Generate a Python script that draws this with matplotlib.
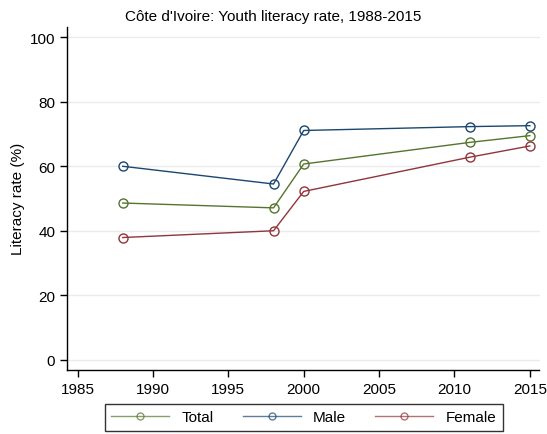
import matplotlib
matplotlib.use("Agg")
import matplotlib.pyplot as plt

plt.rcParams['font.family'] = ['Liberation Sans', 'DejaVu Sans']

# DATA

years = [1988, 1998, 2000, 2011, 2015]
total = [48.6, 47.1, 60.7, 67.4, 69.5]
male = [60.0, 54.5, 71.1, 72.3, 72.6]
female = [37.9, 40.0, 52.2, 62.8, 66.3]

series_names = ["Total", "Male", "Female"]
series_colors = ["#55752f", "#1a476f", "#90353b"]

x_ticks = [1985, 1990, 1995, 2000, 2005, 2010, 2015]
y_ticks = [0, 20, 40, 60, 80, 100]

# PLOT

fig = plt.figure(figsize=(5.47, 4.35), dpi=100)
ax = fig.add_axes([67 / 547, 1 - 370.7 / 435, (539.5 - 67) / 547, (370.7 - 28) / 435])

for vals, name, col in zip([total, male, female], series_names, series_colors):
    ax.plot(years, vals, color=col, lw=1.0, marker="o", markersize=6.5,
            markerfacecolor="none", markeredgewidth=1.0, label=name)

ax.set_xlim(1984.3, 2015.64)
ax.set_ylim(-3.1, 103.2)
ax.set_xticks(x_ticks)
ax.set_yticks(y_ticks)
ax.tick_params(labelsize=11, length=5, width=1, color="black")
ax.grid(axis="y", color="#ebebeb", lw=1)
ax.set_axisbelow(True)

for s in ["top", "right"]:
    ax.spines[s].set_visible(False)
for s in ["left", "bottom"]:
    ax.spines[s].set_linewidth(1)

ax.set_ylabel("Literacy rate (%)", fontsize=11, labelpad=3.5)
fig.suptitle("Côte d'Ivoire: Youth literacy rate, 1988-2015", fontsize=11, y=0.977)

leg = fig.legend(*ax.get_legend_handles_labels(), loc="upper center",
                 bbox_to_anchor=(303.8 / 547, 1 - 405 / 435), ncol=3,
                 fontsize=11, frameon=True, fancybox=False, edgecolor="black",
                 handlelength=3.8, handletextpad=0.8, columnspacing=1.9,
                 borderpad=0.42, borderaxespad=0)
leg.get_frame().set_linewidth(1)
for line in leg.get_lines():
    line.set_alpha(0.7)
    line.set_markersize(5)

fig.savefig("out.png", dpi=100)
